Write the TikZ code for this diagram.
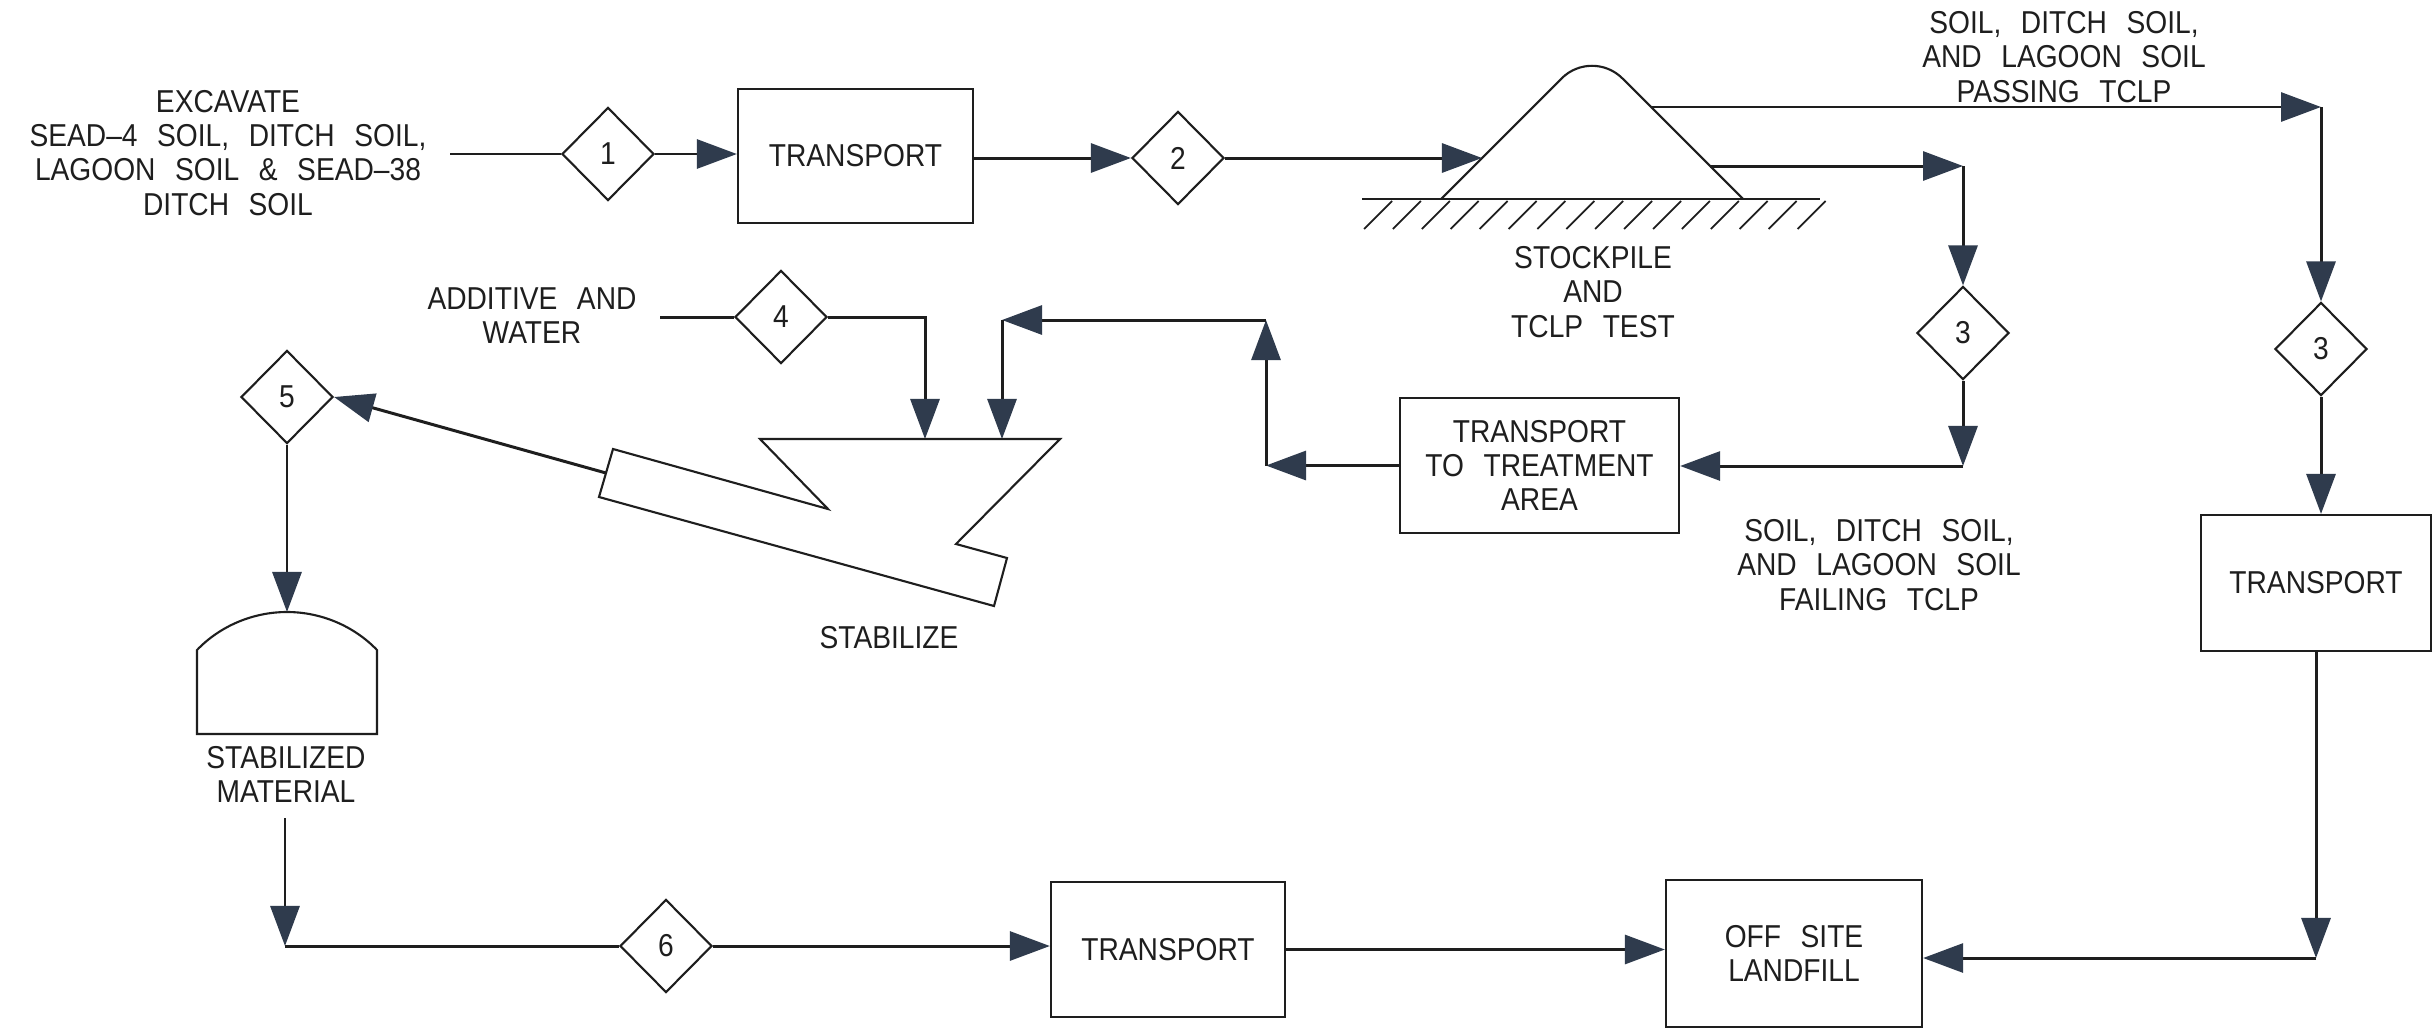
\documentclass[tikz,border=0pt]{standalone}
\usepackage{fontspec}
\newfontfamily\cadfont[FakeStretch=0.89,WordSpace=2.5]{Liberation Sans}
\usetikzlibrary{shapes.geometric,arrows.meta}
\definecolor{ink}{HTML}{1E1E1E}
\definecolor{tipfill}{HTML}{2F3B4D}
\begin{document}
\begin{tikzpicture}[x=0.01cm,y=-0.01cm,
  every node/.style={font=\cadfont\fontsize{9}{9.7}\selectfont, text=ink},
  procbox/.style={draw=ink, line width=0.6pt, rectangle, inner sep=0pt, align=center},
  valve/.style={draw=ink, diamond, line width=0.6pt, inner sep=0pt,
                minimum width=0.92cm, minimum height=0.93cm},
  note/.style={align=center, inner sep=0pt},
  pipe/.style={draw=ink, line width=0.85pt},
  flow/.style={pipe, -{Triangle[length=0.40cm,width=0.29cm,color=tipfill]}},
  shape line/.style={draw=ink, line width=0.6pt, line join=miter}
]
\fill[white] (0,0) rectangle (2436,1030);
\useasboundingbox (0,0) rectangle (2436,1030);

% ---------- excavation and first transport ----------
\node[note] (exc) at (228,153) {EXCAVATE\\SEAD–4 SOIL, DITCH SOIL,\\LAGOON SOIL \& SEAD–38\\DITCH SOIL};
\coordinate (excOut) at (450,154);
\node[valve] (d1) at (608,154) {1};
\node[procbox, minimum width=2.35cm, minimum height=1.34cm] (tr1) at (855.5,156) {TRANSPORT};
\draw[pipe] (excOut) -- (d1.west);
\draw[flow] (d1.east) -- (d1.east -| tr1.west);
\node[valve] (d2) at (1178,158) {2};
\draw[flow] (tr1.east |- d2.west) -- (d2.west);

% ---------- stockpile on hatched ground ----------
\draw[shape line] (1441,199) -- (1561.6,78.4)
  .. controls (1578.4,61.6) and (1605.6,61.6) .. (1622.4,78.4) -- (1743,199);
\draw[shape line] (1362,199) -- (1820,199);
\foreach \k in {0,...,15}
  \draw[ink, line width=0.5pt] ({1364+28.9*\k},229) -- ({1392+28.9*\k},201);
\coordinate (spIn) at (1482,158);
\coordinate (spHi) at (1651,107);
\coordinate (spLo) at (1710,166);
\draw[flow] (d2.east) -- (spIn);
\node[note] (spl) at (1593,292) {STOCKPILE\\AND\\TCLP TEST};

% ---------- passing branch ----------
\node[note] (pass) at (2064,57) {SOIL, DITCH SOIL,\\AND LAGOON SOIL\\PASSING TCLP};
\coordinate (cHi) at (2321,107);
\draw[flow] (spHi) -- (cHi);
\node[valve] (d3b) at (2321,349) {3};
\draw[flow] (cHi) -- (d3b.north);
\node[procbox, minimum width=2.30cm, minimum height=1.36cm] (tr3) at (2316,583) {TRANSPORT};
\draw[flow] (d3b.south) -- (d3b.south |- tr3.north);
\node[procbox, minimum width=2.56cm, minimum height=1.47cm] (land) at (1794,953.5)
  {\fontsize{9}{9.1}\selectfont OFF SITE\\LANDFILL};
\coordinate (cLf) at (2316,958);
\draw[flow] (tr3.south) -- (cLf);
\draw[flow] (cLf) -- (cLf -| land.east);

% ---------- failing branch ----------
\coordinate (cLo) at (1963,166);
\draw[flow] (spLo) -- (cLo);
\node[valve] (d3a) at (1963,333) {3};
\draw[flow] (cLo) -- (d3a.north);
\node[procbox, minimum width=2.79cm, minimum height=1.35cm] (tta) at (1539.5,465.5)
  {TRANSPORT\\TO TREATMENT\\AREA};
\coordinate (cTt) at (1963,466);
\draw[flow] (d3a.south) -- (cTt);
\draw[flow] (cTt) -- (cTt -| tta.east);
\node[note] (fail) at (1879,565) {SOIL, DITCH SOIL,\\AND LAGOON SOIL\\FAILING TCLP};
\coordinate (cR1) at (1266,320);
\coordinate (cR2) at (1002,320);
\coordinate (hopB) at (1002,439);
\draw[flow] (tta.west) -- (tta.west -| cR1);
\draw[flow] (tta.west -| cR1) -- (cR1);
\draw[flow] (cR1) -- (cR2);
\draw[flow] (cR2) -- (hopB);

% ---------- additive feed ----------
\node[note] (add) at (532,315.5) {ADDITIVE AND\\WATER};
\coordinate (addIn) at (660,317);
\node[valve] (d4) at (781,317) {4};
\coordinate (hopA) at (925,439);
\draw[pipe] (addIn) -- (d4.west);
\draw[flow] (d4.east) -| (hopA);

% ---------- stabilizer: hopper and conveyor ----------
\draw[shape line] (760,439) -- (1060,439) -- (956,544) -- (1007,558) -- (994,606)
  -- (599,497) -- (613,449) -- (828,509) -- cycle;
\node[note] (stab) at (889,638) {STABILIZE};
\coordinate (convEnd) at (606,473);
\node[valve] (d5) at (287,397) {5};
\draw[flow] (convEnd) -- (d5.east);

% ---------- stabilized material pile ----------
\coordinate (domeTop) at (287,612);
\draw[shape line] (197,734) -- (197,650) .. controls (220,626) and (253,612) .. (domeTop)
  .. controls (321,612) and (354,626) .. (377,650) -- (377,734) -- cycle;
\draw[flow] (d5.south) -- (domeTop);
\node[note] (stm) at (286,774.5) {STABILIZED\\MATERIAL};
\coordinate (stmOut) at (285,818);
\coordinate (cSt) at (285,946);
\draw[flow] (stmOut) -- (cSt);
\node[valve] (d6) at (666,946) {6};
\draw[pipe] (cSt) -- (d6.west);
\node[procbox, minimum width=2.34cm, minimum height=1.35cm] (tr4) at (1168,949.5) {TRANSPORT};
\draw[flow] (d6.east) -- (d6.east -| tr4.west);
\draw[flow] (tr4.east) -- (tr4.east -| land.west);
\end{tikzpicture}
\end{document}
